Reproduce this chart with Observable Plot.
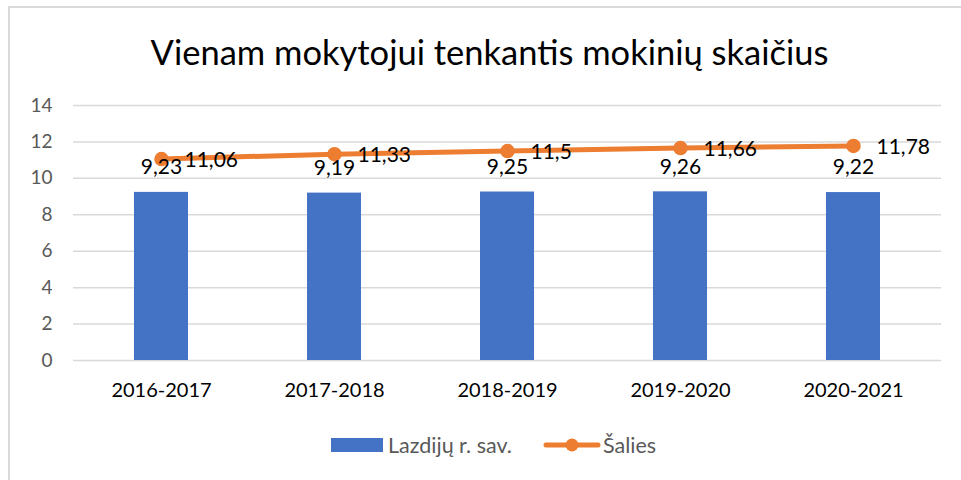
<!DOCTYPE html>
<html>
<head>
<meta charset="utf-8">
<script src="https://cdn.jsdelivr.net/npm/d3@7"></script>
<script src="https://cdn.jsdelivr.net/npm/@observablehq/plot@0.6"></script>
<style>
  html, body { margin: 0; padding: 0; background: #fff; width: 961px; height: 480px; overflow: hidden; font-family: Lato, "Open Sans", sans-serif; }
  #frame { position: absolute; left: 8px; top: 6px; width: 1000px; height: 600px; border-left: 2px solid #d9d9d9; border-top: 2px solid #d9d9d9; box-sizing: border-box; }
  #title { position: absolute; left: 0; top: 0; width: 961px; height: 90px; text-align: center; line-height: 104px; font-size: 34.5px; color: #000; padding-left: 18px; box-sizing: border-box; }
  #chart { position: absolute; left: 0; top: 90px; }
  #legend { position: absolute; left: 0; top: 420px; }
</style>
</head>
<body>
<div id="frame"></div>
<div id="title">Vienam mokytojui tenkantis mokinių skaičius</div>
<div id="chart"></div>
<div id="legend"></div>
<script>
const years = ["2016-2017", "2017-2018", "2018-2019", "2019-2020", "2020-2021"];
const lazdijai = [9.23, 9.19, 9.25, 9.26, 9.22];
const salies = [11.06, 11.33, 11.5, 11.66, 11.78];
const yTicks = [0, 2, 4, 6, 8, 10, 12, 14];
const seriesNames = ["Lazdijų r. sav.", "Šalies"];

const blue = "#4472C4";
const orange = "#ED7D31";
const fmt = v => String(v).replace(".", ",");

const barData = years.map((y, i) => ({year: y, value: lazdijai[i]}));
const lineData = years.map((y, i) => ({year: y, value: salies[i]}));

const plot = Plot.plot({
  width: 961,
  height: 330,
  marginTop: 15,
  marginBottom: 60,
  marginLeft: 73,
  marginRight: 20,
  style: {fontFamily: "Lato, 'Open Sans', sans-serif", background: "transparent"},
  x: {domain: years, paddingInner: 0.689, paddingOuter: 0.3445, label: null},
  y: {domain: [0, 14], label: null},
  marks: [
    Plot.ruleY(yTicks, {stroke: "#d9d9d9", strokeWidth: 1.5}),
    Plot.axisY(yTicks, {tickSize: 0, tickPadding: 21, fontSize: 19, fill: "#595959", label: null, tickFormat: d => d}),
    Plot.axisX({tickSize: 0, tickPadding: 22, fontSize: 20, fill: "#000", label: null}),
    Plot.barY(barData, {x: "year", y: "value", fill: blue}),
    Plot.line(lineData, {x: "year", y: "value", stroke: orange, strokeWidth: 5, strokeLinecap: "round"}),
    Plot.dot(lineData, {x: "year", y: "value", r: 6.5, fill: orange, stroke: orange}),
    Plot.text(barData, {x: "year", y: "value", text: d => fmt(d.value), dy: -25, fontSize: 21, fill: "#000"}),
    Plot.text(lineData, {x: "year", y: "value", text: d => fmt(d.value), dx: 23, dy: 1, textAnchor: "start", fontSize: 21, fill: "#000"})
  ]
});
document.getElementById("chart").appendChild(plot);

// Legend
const lg = d3.select("#legend").append("svg").attr("width", 961).attr("height", 60)
  .style("font-family", "Lato, 'Open Sans', sans-serif");
lg.append("rect").attr("x", 331).attr("y", 18).attr("width", 52).attr("height", 14).attr("fill", blue);
lg.append("text").attr("x", 388).attr("y", 25).attr("dy", "0.35em").attr("font-size", 21.5).attr("fill", "#595959").text(seriesNames[0]);
lg.append("line").attr("x1", 546).attr("x2", 598).attr("y1", 25).attr("y2", 25).attr("stroke", orange).attr("stroke-width", 5).attr("stroke-linecap", "round");
lg.append("circle").attr("cx", 572).attr("cy", 25).attr("r", 6.5).attr("fill", orange);
lg.append("text").attr("x", 603).attr("y", 25).attr("dy", "0.35em").attr("font-size", 21.5).attr("fill", "#595959").text(seriesNames[1]);
</script>
</body>
</html>
